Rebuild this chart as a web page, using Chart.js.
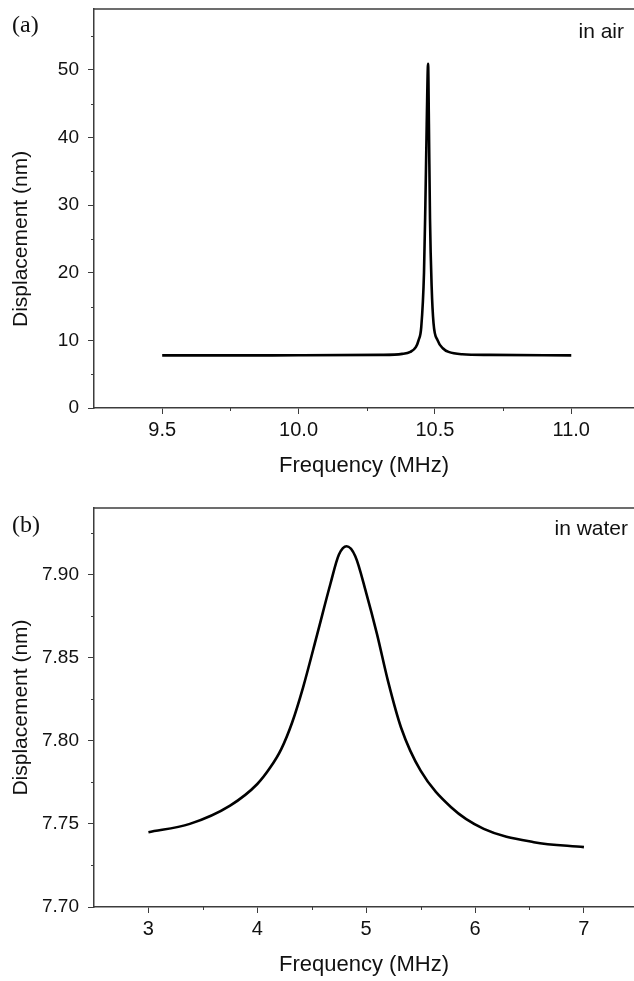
<!DOCTYPE html>
<html>
<head>
<meta charset="utf-8">
<script src="https://cdn.jsdelivr.net/npm/chart.js@4.4.1/dist/chart.umd.min.js"></script>
<style>
    body { margin: 0; background: #fff; }
    #wrap { position: relative; width: 634px; height: 981px; overflow: hidden; }
    canvas { position: absolute; left: 0; }
    #airChart { top: 0; }
    #waterChart { top: 490px; }
</style>
</head>
<body>
<div id="wrap">
    <canvas id="airChart" width="634" height="490"></canvas>
    <canvas id="waterChart" width="634" height="491"></canvas>
</div>
<script>
// (a) in air
const airFreq = [9.5, 10.0, 10.3, 10.38, 10.41, 10.43, 10.44, 10.45, 10.46, 10.465, 10.47, 10.475, 10.478, 10.482, 10.488, 10.495, 10.51, 10.53, 10.55, 10.6, 10.7, 11.0];
const airDisp = [7.78, 7.79, 7.85, 8.0, 8.3, 9.0, 10.0, 12.0, 20.0, 30.0, 42.0, 50.9, 42.0, 28.0, 18.0, 12.5, 10.0, 8.8, 8.3, 7.95, 7.85, 7.78];
const airFreqTicks = [9.5, 10.0, 10.5, 11.0];
const airFreqMinor = [9.75, 10.25, 10.75];
const airDispTicks = [0, 10, 20, 30, 40, 50];
const airDispMinor = [5, 15, 25, 35, 45, 55];

// (b) in water
const waterFreq = [3.0, 3.38, 3.75, 4.0, 4.12, 4.22, 4.32, 4.42, 4.55, 4.67, 4.75, 4.82, 4.9, 5.0, 5.1, 5.2, 5.32, 5.5, 5.78, 6.08, 6.54, 7.0];
const waterDisp = [7.745, 7.750, 7.761, 7.774, 7.784, 7.795, 7.811, 7.832, 7.864, 7.894, 7.912, 7.917, 7.911, 7.889, 7.864, 7.836, 7.808, 7.782, 7.760, 7.747, 7.739, 7.736];
const waterFreqTicks = [3, 4, 5, 6, 7];
const waterFreqMinor = [3.5, 4.5, 5.5, 6.5];
const waterDispTicks = [7.70, 7.75, 7.80, 7.85, 7.90];
const waterDispMinor = [7.725, 7.775, 7.825, 7.875, 7.925];

Chart.defaults.font.family = '"Liberation Sans", Arial, sans-serif';
Chart.defaults.color = '#111';

const axisColor = '#3c3c3c';

// top frame line, minor ticks, y title and the corner texts
const extrasPlugin = {
    id: 'extras',
    afterDraw(chart, args, opts) {
        const ctx = chart.ctx;
        const area = chart.chartArea;
        const xs = chart.scales.x;
        const ys = chart.scales.y;
        ctx.save();
        ctx.strokeStyle = axisColor;
        ctx.lineWidth = 1.5;
        ctx.beginPath();
        ctx.moveTo(area.left, area.top);
        ctx.lineTo(area.right, area.top);
        ctx.stroke();

        ctx.lineWidth = 1;
        ctx.beginPath();
        opts.xMinor.forEach(v => {
            const px = Math.round(xs.getPixelForValue(v)) + 0.5;
            ctx.moveTo(px, area.bottom);
            ctx.lineTo(px, area.bottom + 3);
        });
        opts.yMinor.forEach(v => {
            const py = Math.round(ys.getPixelForValue(v)) + 0.5;
            ctx.moveTo(area.left, py);
            ctx.lineTo(area.left - 3, py);
        });
        ctx.stroke();

        ctx.fillStyle = '#111';
        ctx.textBaseline = 'middle';
        ctx.textAlign = 'left';
        ctx.font = '24px "Liberation Serif", "Times New Roman", serif';
        ctx.fillText(opts.panel, 12, opts.panelY);
        ctx.textAlign = 'right';
        ctx.font = '21px "Liberation Sans", Arial, sans-serif';
        ctx.fillText(opts.medium, opts.mediumX, opts.mediumY);

        // y title sits round the middle of the labelled range, as in the original
        ctx.translate(21, ys.getPixelForValue(opts.titleAt));
        ctx.rotate(-Math.PI / 2);
        ctx.textAlign = 'center';
        ctx.fillText('Displacement (nm)', 0, 0);
        ctx.restore();
    }
};

function makeChart(id, freq, disp, xr, yr, xTicks, yTicks, xDec, yDec, xHeight, topPad, titlePad, extras) {
    const ctx = document.getElementById(id).getContext('2d');
    return new Chart(ctx, {
        type: 'line',
        data: {
            datasets: [{
                data: freq.map((f, i) => ({ x: f, y: disp[i] })),
                borderColor: '#000',
                borderWidth: 2.6,
                pointRadius: 0,
                fill: false,
                cubicInterpolationMode: 'monotone'
            }]
        },
        options: {
            responsive: false,
            animation: false,
            devicePixelRatio: 1,
            layout: { padding: { top: topPad, left: 0, right: 0, bottom: 0 } },
            plugins: {
                legend: { display: false },
                tooltip: { enabled: false },
                extras: extras
            },
            scales: {
                x: {
                    type: 'linear',
                    min: xr[0],
                    max: xr[1],
                    afterBuildTicks: s => { s.ticks = xTicks.map(v => ({ value: v })); },
                    afterFit: s => { s.height = xHeight; s.paddingLeft = 0; s.paddingRight = 0; },
                    ticks: {
                        autoSkip: false,
                        maxRotation: 0,
                        padding: 4,
                        font: { size: 20 },
                        callback: v => Number(v).toFixed(xDec)
                    },
                    grid: { drawOnChartArea: false, drawTicks: true, tickLength: 6, color: axisColor, lineWidth: 1 },
                    border: { display: true, color: axisColor, width: 1.5 },
                    title: {
                        display: true,
                        text: 'Frequency (MHz)',
                        font: { size: 22 },
                        padding: { top: 0, bottom: titlePad }
                    }
                },
                y: {
                    type: 'linear',
                    min: yr[0],
                    max: yr[1],
                    afterBuildTicks: s => { s.ticks = yTicks.map(v => ({ value: v })); },
                    afterFit: s => { s.width = 94; s.paddingTop = 0; s.paddingBottom = 0; },
                    ticks: {
                        autoSkip: false,
                        padding: 9,
                        font: { size: 19 },
                        callback: v => Number(v).toFixed(yDec)
                    },
                    grid: { drawOnChartArea: false, drawTicks: true, tickLength: 6, color: axisColor, lineWidth: 1 },
                    border: { display: true, color: axisColor, width: 1.5 }
                }
            }
        },
        plugins: [extrasPlugin]
    });
}

makeChart('airChart', airFreq, airDisp, [9.25, 11.23], [0, 59], airFreqTicks, airDispTicks, 1, 0, 82, 9, 11,
    { xMinor: airFreqMinor, yMinor: airDispMinor, panel: '(a)', panelY: 26, medium: 'in air', mediumX: 624, mediumY: 32, titleAt: 25 });

makeChart('waterChart', waterFreq, waterDisp, [2.5, 7.46], [7.70, 7.94], waterFreqTicks, waterDispTicks, 0, 2, 74, 18, 3,
    { xMinor: waterFreqMinor, yMinor: waterDispMinor, panel: '(b)', panelY: 36, medium: 'in water', mediumX: 628, mediumY: 39, titleAt: 7.82 });
</script>
</body>
</html>
